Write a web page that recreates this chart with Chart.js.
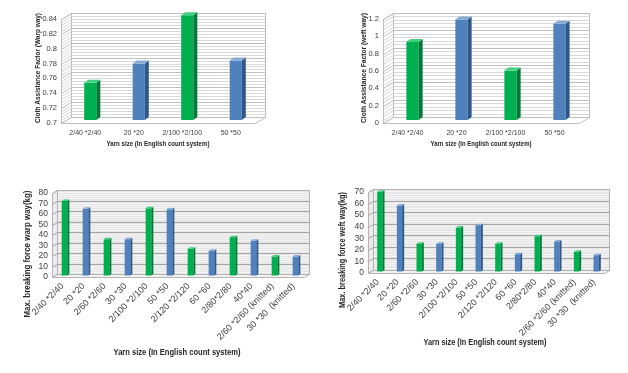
<!DOCTYPE html>
<html>
<head>
<meta charset="utf-8">
<script src="https://cdn.jsdelivr.net/npm/chart.js@4.4.1/dist/chart.umd.min.js"></script>
<style>
  html, body { margin: 0; padding: 0; background: #ffffff; }
  #wrap { position: relative; width: 628px; height: 373px; overflow: hidden; }
  canvas { position: absolute; }
</style>
</head>
<body>
<div id="wrap">
  <canvas id="warpFactorChart" width="314" height="160" style="left:0;top:0"></canvas>
  <canvas id="weftFactorChart" width="314" height="160" style="left:314px;top:0"></canvas>
  <canvas id="warpForceChart" width="314" height="213" style="left:0;top:160px"></canvas>
  <canvas id="weftForceChart" width="314" height="213" style="left:314px;top:160px"></canvas>
</div>
<script>
var factorCategories = ["2/40 *2/40", "20 *20", "2/100 *2/100", "50 *50"];
var warpFactor = [0.75, 0.776, 0.841, 0.78];
var weftFactor = [0.9, 1.16, 0.57, 1.11];
var warpFactorTicks = ["0.7", "0.72", "0.74", "0.76", "0.78", "0.8", "0.82", "0.84"];
var weftFactorTicks = ["0", "0.2", "0.4", "0.6", "0.8", "1", "1.2"];

var forceCategories = ["2/40 *2/40", "20 *20", "2/60 *2/60", "30 *30", "2/100 *2/100", "50 *50",
  "2/120 *2/120", "60 *60", "2/80*2/80", "40*40", "2/60 *2/60 (knitted)", "30 *30  (knitted)"];
var warpForce = [71, 63.5, 34.5, 34.5, 64, 63, 25.5, 23.5, 36.5, 33, 18, 18];
var weftForce = [69, 57, 24, 24, 38, 40, 24, 15, 30.5, 26, 17, 14];
var warpForceTicks = ["0", "10", "20", "30", "40", "50", "60", "70", "80"];
var weftForceTicks = ["0", "10", "20", "30", "40", "50", "60", "70"];

var GREEN = { front: "#00b050", side: "#007a37", top: "#3fd07f" };
var BLUE = { front: "#4f81bd", side: "#2f5788", top: "#86a9d6" };
var FONT = "'Liberation Sans', Arial, sans-serif";

function barColors(n, key) {
  var out = [];
  for (var i = 0; i < n; i++) {
    out.push((i % 2 === 0 ? GREEN : BLUE)[key]);
  }
  return out;
}

function labelFor(list) {
  return function (value) {
    for (var i = 0; i < list.length; i++) {
      if (Math.abs(parseFloat(list[i]) - value) < 1e-6) {
        return list[i];
      }
    }
    return "";
  };
}

function poly(ctx, pts, fill, stroke) {
  ctx.beginPath();
  ctx.moveTo(pts[0][0], pts[0][1]);
  for (var i = 1; i < pts.length; i++) {
    ctx.lineTo(pts[i][0], pts[i][1]);
  }
  ctx.closePath();
  if (fill) { ctx.fillStyle = fill; ctx.fill(); }
  if (stroke) { ctx.strokeStyle = stroke; ctx.lineWidth = 1; ctx.stroke(); }
}

var depthPlugin = {
  id: "depth3d",
  beforeDatasetsDraw: function (chart, args, o) {
    var a = chart.chartArea, ys = chart.scales.y, ctx = chart.ctx;
    var dx = o.dx, dy = o.dy;
    var L = a.left + 0.5, R = a.right + 0.5, T = a.top + 0.5, B = a.bottom + 0.5;
    ctx.save();
    poly(ctx, [[L + dx, T - dy], [R + dx, T - dy], [R + dx, B - dy], [L + dx, B - dy]], o.wall, null);
    poly(ctx, [[L, T], [L + dx, T - dy], [L + dx, B - dy], [L, B]], o.sideWall, null);
    ys.ticks.forEach(function (t) {
      var py = Math.round(ys.getPixelForValue(t.value)) + 0.5;
      ctx.beginPath();
      ctx.moveTo(L, py);
      ctx.lineTo(L + dx, py - dy);
      ctx.lineTo(R + dx, py - dy);
      ctx.strokeStyle = t.label !== "" ? o.major : o.minor;
      ctx.lineWidth = 1;
      ctx.stroke();
    });
    poly(ctx, [[L + dx, T - dy], [R + dx, T - dy], [R + dx, B - dy], [L + dx, B - dy]], null, o.edge);
    poly(ctx, [[L, T], [L + dx, T - dy], [L + dx, B - dy], [L, B]], null, o.edge);
    poly(ctx, [[L, B], [R, B], [R + dx, B - dy], [L + dx, B - dy]], o.floor, o.edge);
    ctx.restore();
  },
  beforeDatasetDraw: function (chart, args, o) {
    chart.ctx.save();
    chart.ctx.translate(o.sx, -o.sy);
  },
  afterDatasetDraw: function (chart, args, o) {
    var ctx = chart.ctx, ds = chart.data.datasets[args.index];
    args.meta.data.forEach(function (bar, i) {
      var p = bar.getProps(["x", "y", "base", "width"], true);
      var l = p.x - p.width / 2, r = p.x + p.width / 2;
      poly(ctx, [[r, p.y], [r + o.bd, p.y - o.bdy], [r + o.bd, p.base - o.bdy], [r, p.base]], ds.sideColor[i], null);
      poly(ctx, [[l, p.y], [l + o.bd, p.y - o.bdy], [r + o.bd, p.y - o.bdy], [r, p.y]], ds.topColor[i], null);
    });
    ctx.restore();
  },
  afterDraw: function (chart, args, o) {
    var ctx = chart.ctx;
    ctx.save();
    ctx.fillStyle = "#262626";
    ctx.textAlign = "center";
    ctx.textBaseline = "middle";
    ctx.font = o.xTitle.font;
    ctx.fillText(o.xTitle.text, o.xTitle.x, o.xTitle.y, o.xTitle.width);
    ctx.translate(o.yTitle.x, o.yTitle.y);
    ctx.rotate(-Math.PI / 2);
    ctx.font = o.yTitle.font;
    ctx.fillText(o.yTitle.text, 0, 0, o.yTitle.width);
    ctx.restore();
  }
};

function makeChart(id, s) {
  var canvas = document.getElementById(id);
  new Chart(canvas, {
    type: "bar",
    data: {
      labels: s.labels,
      datasets: [{
        data: s.values,
        base: s.min,
        backgroundColor: barColors(s.values.length, "front"),
        sideColor: barColors(s.values.length, "side"),
        topColor: barColors(s.values.length, "top"),
        borderWidth: 0,
        barPercentage: s.barPct,
        categoryPercentage: 1,
        clip: false
      }]
    },
    options: {
      responsive: false,
      animation: false,
      devicePixelRatio: 1,
      layout: { padding: { left: 0, top: s.area.top, right: s.area.right, bottom: 0 } },
      plugins: {
        legend: { display: false },
        tooltip: { enabled: false },
        depth3d: s.depth
      },
      scales: {
        x: {
          grid: { display: false, drawTicks: false },
          border: { display: false },
          ticks: {
            autoSkip: false,
            minRotation: s.rotation,
            maxRotation: s.rotation,
            padding: s.xPad,
            color: "#404040",
            font: { family: FONT, size: s.xFont }
          },
          afterFit: function (scale) { scale.height = s.area.xHeight; }
        },
        y: {
          min: s.min,
          max: s.max,
          grid: { display: false, drawTicks: false },
          border: { display: false },
          ticks: {
            stepSize: s.minor,
            autoSkip: false,
            padding: 4,
            color: "#404040",
            font: { family: FONT, size: s.yFont },
            callback: labelFor(s.ticks)
          },
          afterFit: function (scale) { scale.width = s.area.yWidth; }
        }
      }
    },
    plugins: [depthPlugin]
  });
}

var topDepth = {
  dx: 10, dy: 6, sx: 5, sy: 3, bd: 4, bdy: 3,
  wall: "#ffffff", sideWall: "#ffffff", floor: "#ffffff",
  minor: "#d9d9d9", major: "#bfbfbf", edge: "#bfbfbf"
};
var lowDepth = {
  dx: 5, dy: 3, sx: 2, sy: 1.5, bd: 2, bdy: 1.5,
  wall: "#e6e6e6", sideWall: "#e6e6e6", floor: "#f2f2f2",
  minor: "#f4f4f4", major: "#a6a6a6", edge: "#b3b3b3"
};

function withTitles(base, xTitle, yTitle) {
  var o = {};
  for (var k in base) { o[k] = base[k]; }
  o.xTitle = xTitle;
  o.yTitle = yTitle;
  return o;
}

makeChart("warpFactorChart", {
  labels: factorCategories, values: warpFactor, ticks: warpFactorTicks,
  min: 0.7, max: 0.84, minor: 0.004, barPct: 0.25, rotation: 0, xPad: 6,
  xFont: 7, yFont: 7.5,
  area: { top: 19, right: 59, yWidth: 61, xHeight: 37 },
  depth: withTitles(topDepth,
    { text: "Yarn size (In English count system)", x: 158, y: 144, width: 103, font: "bold 7px " + FONT },
    { text: "Cloth Assistance Factor (Warp way)", x: 38, y: 68, width: 110, font: "bold 7px " + FONT })
});

makeChart("weftFactorChart", {
  labels: factorCategories, values: weftFactor, ticks: weftFactorTicks,
  min: 0, max: 1.2, minor: 0.04, barPct: 0.25, rotation: 0, xPad: 6,
  xFont: 7, yFont: 7.5,
  area: { top: 19, right: 49, yWidth: 69, xHeight: 37 },
  depth: withTitles(topDepth,
    { text: "Yarn size (In English count system)", x: 167, y: 144, width: 101, font: "bold 7px " + FONT },
    { text: "Cloth Assistance Factor (weft way)", x: 50, y: 68, width: 110, font: "bold 7px " + FONT })
});

makeChart("warpForceChart", {
  labels: forceCategories, values: warpForce, ticks: warpForceTicks,
  min: 0, max: 80, minor: 2, barPct: 0.27, rotation: 45, xPad: 4,
  xFont: 9, yFont: 8.5,
  area: { top: 33, right: 10, yWidth: 52, xHeight: 96 },
  depth: withTitles(lowDepth,
    { text: "Yarn size (In English count system)", x: 177, y: 193, width: 127, font: "bold 9px " + FONT },
    { text: "Max. breaking force warp way(kg)", x: 27, y: 94, width: 127, font: "bold 9.5px " + FONT })
});

makeChart("weftForceChart", {
  labels: forceCategories, values: weftForce, ticks: weftForceTicks,
  min: 0, max: 70, minor: 2, barPct: 0.27, rotation: 45, xPad: 4,
  xFont: 9, yFont: 8.5,
  area: { top: 32, right: 24, yWidth: 54, xHeight: 100 },
  depth: withTitles(lowDepth,
    { text: "Yarn size (In English count system)", x: 171, y: 183, width: 123, font: "bold 9px " + FONT },
    { text: "Max. breaking force weft way(kg)", x: 29, y: 90, width: 116, font: "bold 9px " + FONT })
});
</script>
</body>
</html>
